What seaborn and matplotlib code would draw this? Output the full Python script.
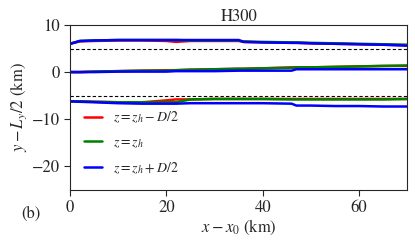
import numpy as np
import pandas as pd
import matplotlib
matplotlib.use("Agg")
import matplotlib.pyplot as plt
import seaborn as sns

sns.set_style("ticks")
plt.rcParams["font.family"] = "STIXGeneral"
plt.rcParams["mathtext.fontset"] = "stix"

# ── data ─────────────────────────────────────────────────────────────────────
x = [0, 2, 5, 10, 15, 20, 22, 25, 30, 35, 36, 40, 46, 47, 50, 55, 60, 65, 70]

upper_red   = [6.0, 6.5, 6.6, 6.7, 6.7, 6.6, 6.4, 6.6, 6.6, 6.6, 6.4, 6.3, 6.2, 6.2, 6.1, 6.0, 5.9, 5.8, 5.7]
upper_green = [6.0, 6.6, 6.7, 6.8, 6.8, 6.8, 6.8, 6.7, 6.7, 6.7, 6.5, 6.4, 6.3, 6.3, 6.2, 6.1, 6.0, 5.9, 5.8]
upper_blue  = [6.0, 6.6, 6.7, 6.8, 6.8, 6.8, 6.8, 6.8, 6.8, 6.8, 6.4, 6.3, 6.2, 6.2, 6.1, 6.0, 5.9, 5.8, 5.6]

mid_red   = [0.0, 0.0, 0.1, 0.2, 0.3, 0.4, 0.4, 0.5, 0.6, 0.7, 0.7, 0.8, 1.0, 1.0, 1.0, 1.1, 1.2, 1.3, 1.3]
mid_green = [0.0, 0.0, 0.1, 0.2, 0.3, 0.3, 0.4, 0.5, 0.6, 0.7, 0.7, 0.8, 0.9, 1.0, 1.0, 1.1, 1.2, 1.3, 1.4]
mid_blue  = [0.0, 0.0, 0.0, 0.1, 0.1, 0.1, 0.2, 0.2, 0.2, 0.3, 0.3, 0.3, 0.3, 0.6, 0.6, 0.6, 0.6, 0.6, 0.6]

low_red   = [-6.2, -6.2, -6.3, -6.4, -6.4, -6.0, -5.8, -5.8, -5.7, -5.7, -5.7, -5.7, -5.7, -5.7, -5.7, -5.7, -5.7, -5.7, -5.7]
low_green = [-6.2, -6.2, -6.3, -6.4, -6.4, -6.4, -6.4, -5.8, -5.7, -5.7, -5.7, -5.7, -5.8, -5.8, -5.8, -5.8, -5.8, -5.8, -5.7]
low_blue  = [-6.2, -6.3, -6.4, -6.6, -6.7, -6.7, -6.7, -6.6, -6.6, -6.6, -6.6, -6.6, -6.7, -7.1, -7.1, -7.2, -7.2, -7.3, -7.3]

dashed_y = [5, -5]
labels = [r"$z = z_h - D/2$", r"$z = z_h$", r"$z = z_h + D/2$"]
colors = ["red", "green", "blue"]

series = {
    labels[0]: [upper_red, mid_red, low_red],
    labels[1]: [upper_green, mid_green, low_green],
    labels[2]: [upper_blue, mid_blue, low_blue],
}

rows = []
for lab, branches in series.items():
    for k, vals in enumerate(branches):
        for xi, yi in zip(x, vals):
            rows.append({"x": xi, "y": yi, "z": lab, "branch": k})
df = pd.DataFrame(rows)

# ── plot ─────────────────────────────────────────────────────────────────────
fig = plt.figure(figsize=(4.15, 2.42), dpi=100)
ax = fig.add_axes([0.169, 0.215, 0.812, 0.682])

for y0 in dashed_y:
    ax.axhline(y0, color="black", linestyle="--", linewidth=0.8, dashes=(3, 2))

for lab, col in zip(labels, colors):
    sub = df[df["z"] == lab]
    sns.lineplot(data=sub, x="x", y="y", units="branch", estimator=None,
                 color=col, linewidth=1.8, ax=ax, label=lab, sort=False)

ax.set_xlim(0, 70)
ax.set_ylim(-25, 10)
ax.set_xticks([0, 20, 40, 60])
ax.set_yticks([10, 0, -10, -20])
ax.tick_params(labelsize=12, length=4, width=0.8)
ax.set_xlabel(r"$x - x_0$ (km)", fontsize=12, labelpad=1)
ax.set_ylabel(r"$y - L_y/2$ (km)", fontsize=12, labelpad=2)
ax.set_title("H300", fontsize=12, pad=3)
for s in ax.spines.values():
    s.set_visible(True)
    s.set_linewidth(0.8)

# one legend entry per level
handles, labs = ax.get_legend_handles_labels()
uniq = dict(zip(labs, handles))
ax.legend([uniq[l] for l in labels], labels, loc="lower left", frameon=False,
          fontsize=10, handlelength=1.3, handletextpad=0.8,
          labelspacing=0.75, borderaxespad=0.6)
fig.text(0.05, 0.1, "(b)", fontsize=12)

plt.savefig("out.png", dpi=100)
